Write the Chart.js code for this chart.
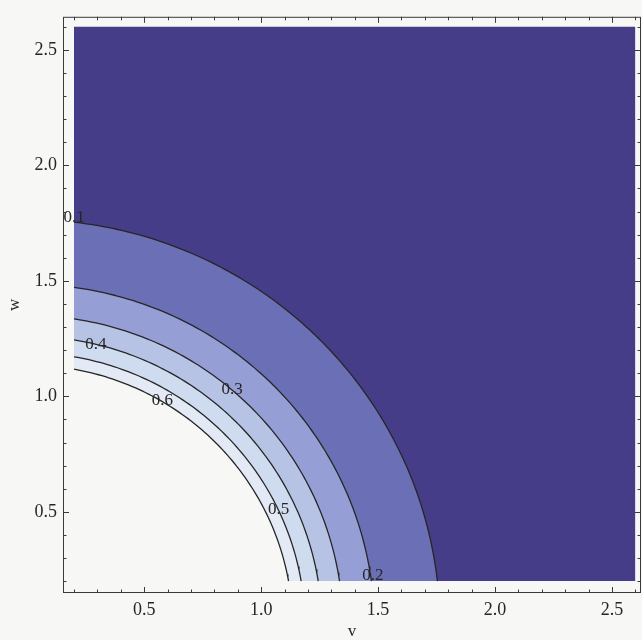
<!DOCTYPE html>
<html>
<head>
<meta charset="utf-8">
<script src="https://cdn.jsdelivr.net/npm/chart.js@4.4.1/dist/chart.umd.min.js"></script>
<style>
  html, body { margin: 0; padding: 0; background: #f7f7f5; }
  canvas { display: block; }
</style>
</head>
<body>
<canvas id="contourChart" width="642" height="640"></canvas>
<script>
// CONTOUR DATA (innermost level first)
const levels = ["0.6", "0.5", "0.4", "0.3", "0.2", "0.1"];
const radii = [1.135, 1.188, 1.26, 1.35, 1.485, 1.765];
const bandColors = ["#f7f7f6", "#e4eaf5", "#cfdbee", "#b6c3e5", "#959fd5", "#6b6fb5"];
const outerColor = "#453d88";

// where the level numbers sit on the lines
const labelV = [0.578, 1.075, 0.293, 0.876, 1.478, 0.2];
const labelW = [0.982, 0.51, 1.223, 1.029, 0.223, 1.775];

// AXES
const tickValues = [0.5, 1.0, 1.5, 2.0, 2.5];
const tickLabels = ["0.5", "1.0", "1.5", "2.0", "2.5"];
const rangeMin = 0.2;
const rangeMax = 2.6;

const serif = "'Liberation Serif', 'DejaVu Serif', serif";

// quarter circle of radius r, kept inside the plot range
function arcPoints(r) {
  const pts = [];
  const a0 = Math.acos(rangeMin / r);
  const a1 = Math.asin(rangeMin / r);
  const n = 90;
  for (let i = 0; i <= n; i++) {
    const a = a0 + (a1 - a0) * i / n;
    pts.push({ x: r * Math.cos(a), y: r * Math.sin(a) });
  }
  return pts;
}

let datasets = radii.map((r, i) => ({
  label: levels[i],
  data: arcPoints(r),
  borderColor: "#262626",
  borderWidth: 1.3,
  backgroundColor: bandColors[i],
  fill: { value: rangeMin },
  pointRadius: 0,
  tension: 0,
}));

// dark region outside every contour
datasets.push({
  label: "outside",
  data: [
    { x: rangeMin, y: rangeMax },
    { x: rangeMax, y: rangeMax },
  ],
  borderWidth: 0,
  borderColor: "rgba(0,0,0,0)",
  backgroundColor: outerColor,
  fill: { value: rangeMin },
  pointRadius: 0,
});

// FRAME, INWARD TICKS AND LEVEL LABELS
const framePlugin = {
  id: "frame",
  afterDatasetsDraw(chart) {
    const ctx = chart.ctx;
    const xs = chart.scales.x;
    const ys = chart.scales.y;
    ctx.save();
    ctx.fillStyle = "#262626";
    ctx.font = "17px " + serif;
    ctx.textAlign = "center";
    ctx.textBaseline = "middle";
    labelV.forEach((v, i) => {
      ctx.fillText(levels[i], xs.getPixelForValue(v), ys.getPixelForValue(labelW[i]));
    });
    ctx.restore();
  },
  afterDraw(chart) {
    const ctx = chart.ctx;
    const { left, right, top, bottom } = chart.chartArea;
    const xs = chart.scales.x;
    const ys = chart.scales.y;
    ctx.save();
    ctx.strokeStyle = "#3a3a3a";
    ctx.lineWidth = 1;
    ctx.strokeRect(left + 0.5, top + 0.5, right - left - 1, bottom - top - 1);
    for (let k = 2; k <= 26; k++) {
      const val = k / 10;
      const len = k % 5 === 0 ? 6 : 3.5;
      const px = Math.round(xs.getPixelForValue(val)) + 0.5;
      const py = Math.round(ys.getPixelForValue(val)) + 0.5;
      ctx.beginPath();
      ctx.moveTo(px, bottom); ctx.lineTo(px, bottom - len);
      ctx.moveTo(px, top); ctx.lineTo(px, top + len);
      ctx.moveTo(left, py); ctx.lineTo(left + len, py);
      ctx.moveTo(right, py); ctx.lineTo(right - len, py);
      ctx.stroke();
    }
    ctx.restore();
  },
};

const ctx = document.getElementById("contourChart").getContext("2d");

const myChart = new Chart(ctx, {
  type: "line",
  data: { datasets: datasets },
  options: {
    responsive: false,
    animation: false,
    layout: { padding: { top: 11, right: 1, left: 0, bottom: 0 } },
    plugins: {
      legend: { display: false },
      tooltip: { enabled: false },
    },
    scales: {
      x: {
        type: "linear",
        min: 0.15297,
        max: 2.624,
        grid: { display: false, drawTicks: false },
        border: { display: false },
        afterBuildTicks: (s) => { s.ticks = tickValues.map((v) => ({ value: v })); },
        afterFit: (s) => { s.height = 47; },
        ticks: {
          padding: 6,
          color: "#262626",
          font: { family: serif, size: 18 },
          callback: (v, i) => tickLabels[i],
        },
        title: {
          display: true,
          text: "v",
          color: "#262626",
          font: { family: serif, size: 17, lineHeight: 1 },
          padding: { top: 0, bottom: 0 },
        },
      },
      y: {
        type: "linear",
        min: 0.14857,
        max: 2.6429,
        grid: { display: false, drawTicks: false },
        border: { display: false },
        afterBuildTicks: (s) => { s.ticks = tickValues.map((v) => ({ value: v })); },
        afterFit: (s) => { s.width = 63; },
        ticks: {
          padding: 6,
          color: "#262626",
          font: { family: serif, size: 18 },
          callback: (v, i) => tickLabels[i],
        },
        title: {
          display: true,
          text: "w",
          color: "#262626",
          font: { family: serif, size: 17, lineHeight: 1 },
          padding: { top: 6, bottom: 0 },
        },
      },
    },
  },
  plugins: [framePlugin],
});
</script>
</body>
</html>
